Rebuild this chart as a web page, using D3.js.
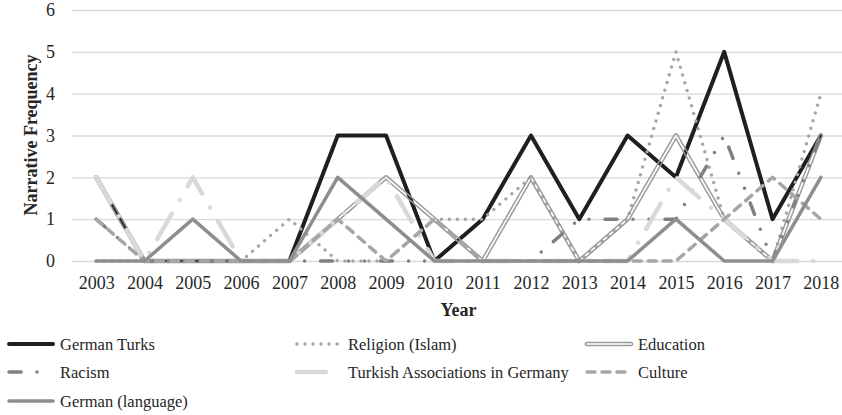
<!DOCTYPE html>
<html>
<head>
<meta charset="utf-8">
<script src="https://cdn.jsdelivr.net/npm/d3@7"></script>
<style>
  body { margin: 0; background: #fff; }
</style>
</head>
<body>
<script>
// Narrative frequency per year
const years = ["2003", "2004", "2005", "2006", "2007", "2008", "2009", "2010",
               "2011", "2012", "2013", "2014", "2015", "2016", "2017", "2018"];
const yTicks = [0, 1, 2, 3, 4, 5, 6];

const germanTurks  = [2, 0, 0, 0, 0, 3, 3, 0, 1, 3, 1, 3, 2, 5, 1, 3];
const religion     = [0, 0, 0, 0, 1, 0, 0, 1, 1, 2, 0, 1, 5, 1, 0, 4];
const education    = [2, 0, 0, 0, 0, 1, 2, 1, 0, 2, 0, 1, 3, 1, 0, 3];
const racism       = [1, 0, 0, 0, 0, 0, 0, 0, 0, 0, 1, 1, 1, 3, 0, 3];
const turkishAssoc = [2, 0, 2, 0, 0, 1, 2, 0, 0, 0, 0, 0, 2, 1, 0, 0];
const culture      = [1, 0, 0, 0, 0, 1, 0, 1, 0, 0, 0, 0, 0, 1, 2, 1];
const germanLang   = [0, 0, 1, 0, 0, 2, 1, 0, 0, 0, 0, 0, 1, 0, 0, 2];

const seriesNames = ["German Turks", "Religion (Islam)", "Education", "Racism",
                     "Turkish Associations in Germany", "Culture", "German (language)"];

// line looks, same order as the names
const looks = [
  { color: "#1f1f1f", width: 4,   dash: null },
  { color: "#a6a6a6", width: 3.5, dash: "0 8" },
  { color: "#9a9a9a", width: 4.6, dash: null, double: true },
  { color: "#808080", width: 3.5, dash: "12 16 0 16 0 16" },
  { color: "#d9d9d9", width: 4.5, dash: "29 16 0 16" },
  { color: "#a6a6a6", width: 3.5, dash: "8 7" },
  { color: "#8e8e8e", width: 3.5, dash: null }
];

const series = [germanTurks, religion, education, racism, turkishAssoc, culture, germanLang]
  .map((values, i) => ({ name: seriesNames[i], values: values, look: looks[i] }));

const width = 842, height = 415;
const plotLeft = 72, plotRight = 845, plotTop = 10, plotBottom = 261;
const serif = '"Liberation Serif", "Times New Roman", Tinos, "DejaVu Serif", serif';

const svg = d3.select("body").append("svg")
  .attr("width", width)
  .attr("height", height)
  .style("background", "#fff")
  .attr("font-family", serif);

const x = d3.scalePoint().domain(years).range([plotLeft, plotRight]).padding(0.5);
const y = d3.scaleLinear().domain([0, 6]).range([plotBottom, plotTop]);

// gridlines + y labels
const yAxis = svg.append("g")
  .attr("transform", `translate(${plotLeft},0)`)
  .call(d3.axisLeft(y).tickValues(yTicks).tickFormat(d3.format("d"))
    .tickSize(-(plotRight - plotLeft)).tickPadding(17));
yAxis.attr("font-family", null);
yAxis.select(".domain").remove();
yAxis.selectAll(".tick line").attr("stroke", "#d9d9d9").attr("stroke-width", 1.3);
yAxis.selectAll(".tick text")
  .style("font-family", serif).style("font-size", "18px").attr("fill", "#262626");

// x labels
const xAxis = svg.append("g")
  .attr("transform", `translate(0,${plotBottom})`)
  .call(d3.axisBottom(x).tickSize(0).tickPadding(15));
xAxis.attr("font-family", null);
xAxis.select(".domain").remove();
xAxis.selectAll(".tick text")
  .style("font-family", serif).style("font-size", "18px").attr("fill", "#262626");

// axis titles
svg.append("text")
  .attr("transform", "translate(37,135) rotate(-90)")
  .attr("text-anchor", "middle")
  .attr("fill", "#262626")
  .style("font-family", serif)
  .style("font-size", "18px")
  .style("font-weight", "bold")
  .text("Narrative Frequency");

svg.append("text")
  .attr("x", (plotLeft + plotRight) / 2)
  .attr("y", 316)
  .attr("text-anchor", "middle")
  .attr("fill", "#262626")
  .style("font-family", serif)
  .style("font-size", "18px")
  .style("font-weight", "bold")
  .text("Year");

const line = d3.line()
  .x((d, i) => x(years[i]))
  .y(d => y(d));

const defs = svg.append("defs");

// draws a path; a "double" look gets a see-through gap in the middle
function drawLine(g, d, look, id) {
  const p = g.append("path")
    .attr("d", d)
    .attr("fill", "none")
    .attr("stroke", look.color)
    .attr("stroke-width", look.width)
    .attr("stroke-linecap", "round")
    .attr("stroke-linejoin", "round");
  if (look.dash) p.attr("stroke-dasharray", look.dash);
  if (look.double) {
    const m = defs.append("mask")
      .attr("id", id)
      .attr("maskUnits", "userSpaceOnUse")
      .attr("x", 0).attr("y", 0)
      .attr("width", width).attr("height", height);
    m.append("rect").attr("width", width).attr("height", height).attr("fill", "#fff");
    m.append("path")
      .attr("d", d)
      .attr("fill", "none")
      .attr("stroke", "#000")
      .attr("stroke-width", 1.7)
      .attr("stroke-linecap", "round")
      .attr("stroke-linejoin", "round");
    p.attr("mask", `url(#${id})`);
  }
}

const plot = svg.append("g");
series.forEach((s, i) => drawLine(plot, line(s.values), s.look, "gap" + i));

// legend, three per row
const legendCols = [9, 297, 587];
const legendRows = [344, 372, 401];
const legend = svg.append("g");
series.forEach((s, i) => {
  const cx = legendCols[i % 3];
  const cy = legendRows[Math.floor(i / 3)];
  drawLine(legend, `M${cx},${cy}H${cx + 44}`, s.look, "lgap" + i);
  legend.append("text")
    .attr("x", cx + 51)
    .attr("y", cy + 6)
    .attr("fill", "#262626")
    .style("font-family", serif)
    .style("font-size", "16.5px")
    .text(s.name);
});
</script>
</body>
</html>
